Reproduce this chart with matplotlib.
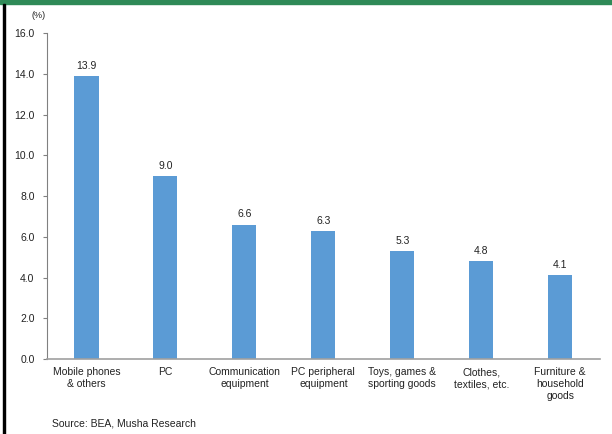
import matplotlib.pyplot as plt
from matplotlib.patches import Rectangle

categories = ["Mobile phones\n& others", "PC", "Communication\nequipment",
              "PC peripheral\nequipment", "Toys, games &\nsporting goods",
              "Clothes,\ntextiles, etc.", "Furniture &\nhousehold\ngoods"]
values = [13.9, 9.0, 6.6, 6.3, 5.3, 4.8, 4.1]
yticks = [0, 2, 4, 6, 8, 10, 12, 14, 16]

plt.rcParams['font.family'] = ['Liberation Sans', 'DejaVu Sans']

fig = plt.figure(figsize=(6.12, 4.34), dpi=100)
ax = fig.add_axes([0.0768, 0.1728, 0.903, 0.751])

x = range(len(categories))
ax.bar(x, values, width=0.305, color='#5B9BD5', zorder=2)
for xi, v in zip(x, values):
    ax.text(xi, v + 0.25, f"{v:.1f}", ha='center', va='bottom', fontsize=7.5, color='#222222')

ax.set_xlim(-0.5, len(categories) - 0.5)
ax.set_ylim(0, 16)
ax.set_yticks(yticks)
ax.set_yticklabels([f"{t:.1f}" for t in yticks], fontsize=7.5, color='#222222')
ax.set_xticks(list(x))
ax.set_xticklabels(categories, fontsize=7.5, color='#222222', linespacing=1.25)
ax.tick_params(axis='x', length=0, pad=6)
ax.tick_params(axis='y', length=3, width=0.8, color='#808080', pad=6)
for s in ['top', 'right']:
    ax.spines[s].set_visible(False)
ax.spines['left'].set_color('#808080')
ax.spines['bottom'].set_color('#A0A0A0')
ax.spines['bottom'].set_linewidth(1.2)

fig.text(31 / 612, 1 - 15 / 434, "(%)", fontsize=6.5, ha='left', va='center', color='#222222')
fig.text(52 / 612, 1 - 424 / 434, "Source: BEA, Musha Research", fontsize=7.5,
         ha='left', va='center', color='#222222')

# frame remnants: green band on top, black line on the left
fig.patches.append(Rectangle((0, 1 - 4 / 434), 1, 4 / 434, transform=fig.transFigure,
                             color='#2F8A57', zorder=0))
fig.patches.append(Rectangle((3 / 612, 0), 2 / 612, 1 - 4 / 434, transform=fig.transFigure,
                             color='black', zorder=0))

fig.savefig("out.png", dpi=100)
